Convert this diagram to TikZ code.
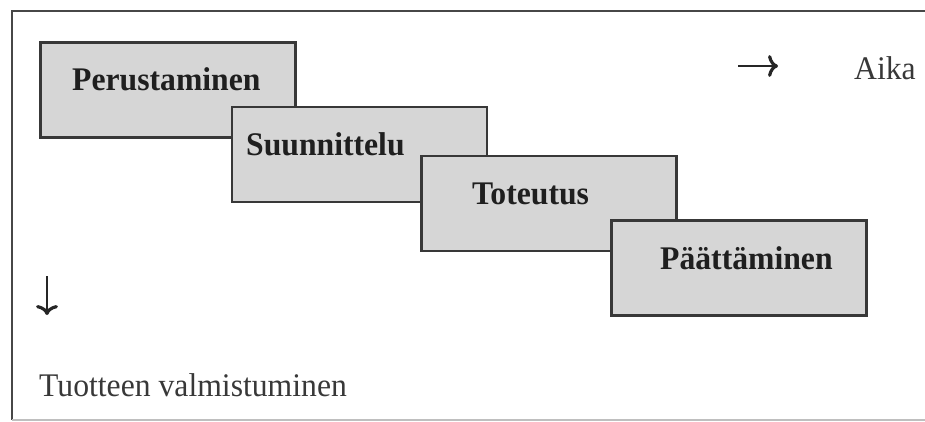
\documentclass[tikz,border=0pt]{standalone}
\usepackage{fontspec}
\setmainfont{Liberation Serif}[FakeStretch=0.96]
\usetikzlibrary{arrows.meta}
\begin{document}
\begin{tikzpicture}[x=1pt,y=-1pt,
  phasebox/.style={draw=black!78, line width=2.2pt, fill=black!16, inner sep=0pt, minimum width=255pt, minimum height=95pt},
  phasetext/.style={font=\fontsize{33}{36}\selectfont\bfseries, text=black!88, inner sep=0pt, anchor=base west},
  plaintext/.style={font=\fontsize{33}{36}\selectfont, text=black!78, inner sep=0pt, anchor=base west},
  axisarrow/.style={draw=black!85, line width=2.6pt, -{To[length=10pt,width=22pt,line width=3.2pt]}},
  frameline/.style={draw=black!72, line width=2pt}]
\useasboundingbox (0,0) rectangle (925,421);
% frame
\coordinate (ftl) at (12,11);
\coordinate (ftr) at (925,11);
\coordinate (fbl) at (12,420);
\coordinate (fbr) at (925,420);
\draw[frameline] (ftr) -- (ftl) -- (fbl);
\draw[draw=black!25, line width=1.5pt] (fbl) -- (fbr);
% boxes
\node[phasebox] (b1) at (168,90) {};
\node[phasetext] (t1) at (72,90) {Perustaminen};
\node[phasebox] (b2) at (359.5,154.5) {};
\node[phasetext] (t2) at (246,155) {Suunnittelu};
\node[phasebox] (b3) at (549,203.5) {};
\node[phasetext] (t3) at (472,204) {Toteutus};
\node[phasebox] (b4) at (739,268) {};
\node[phasetext] (t4) at (660,269) {Päättäminen};
% axes
\coordinate (ras) at (738,66);
\coordinate (rae) at (778,66);
\draw[axisarrow] (ras) -- (rae);
\node[plaintext] (aika) at (854,79) {Aika};
\coordinate (das) at (47,276);
\coordinate (dae) at (47,315);
\draw[axisarrow] (das) -- (dae);
\node[plaintext] (tv) at (39,396) {Tuotteen valmistuminen};
\end{tikzpicture}
\end{document}
